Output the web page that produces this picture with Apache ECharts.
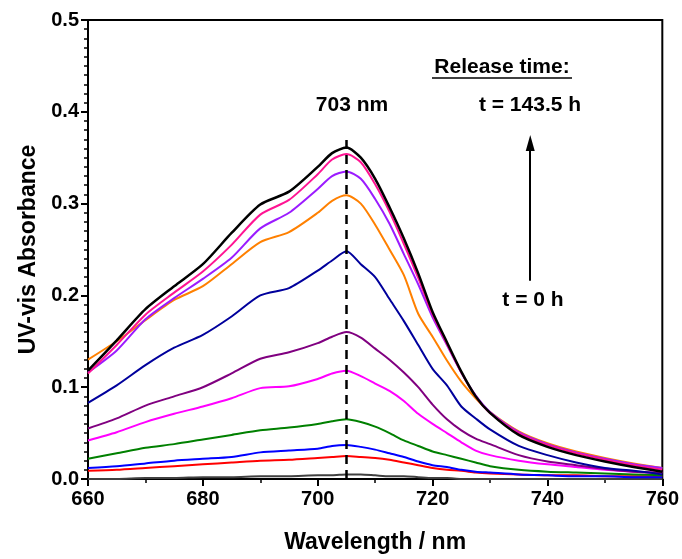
<!DOCTYPE html>
<html>
<head>
<meta charset="utf-8">
<script src="https://cdn.jsdelivr.net/npm/echarts@6/dist/echarts.min.js"></script>
<style>html,body{margin:0;padding:0;background:#fff}#c{width:682px;height:559px}</style>
</head>
<body>
<div id="c"></div>
<script>
const wavelengths = [660,665,670,675,680,685,690,695,700,702.5,705,707.5,710,712.5,715,717.5,720,722.5,725,727.5,730,735,740,745,750,755,760];
const xTicks = [660,680,700,720,740,760];
const yTicks = [0.0,0.1,0.2,0.3,0.4,0.5];

const absT143 = [0.118,0.151,0.185,0.210,0.234,0.268,0.299,0.313,0.340,0.355,0.361,0.350,0.327,0.296,0.262,0.224,0.182,0.149,0.117,0.090,0.072,0.048,0.035,0.026,0.019,0.013,0.008];
const absPink = [0.115,0.146,0.179,0.203,0.226,0.255,0.288,0.304,0.332,0.348,0.354,0.345,0.321,0.291,0.256,0.219,0.179,0.147,0.116,0.090,0.072,0.050,0.037,0.028,0.021,0.015,0.010];
const absViolet = [0.116,0.140,0.174,0.197,0.218,0.241,0.273,0.290,0.316,0.330,0.335,0.327,0.305,0.278,0.245,0.212,0.176,0.146,0.116,0.091,0.073,0.051,0.038,0.029,0.022,0.016,0.012];
const absOrange = [0.130,0.150,0.173,0.195,0.210,0.234,0.258,0.269,0.290,0.303,0.309,0.300,0.277,0.250,0.222,0.180,0.155,0.129,0.106,0.088,0.073,0.052,0.039,0.030,0.023,0.017,0.012];
const absNavy = [0.083,0.102,0.124,0.143,0.157,0.177,0.200,0.208,0.227,0.238,0.248,0.234,0.220,0.196,0.172,0.146,0.120,0.102,0.079,0.066,0.054,0.036,0.026,0.018,0.012,0.009,0.005];
const absPurple = [0.055,0.066,0.080,0.090,0.100,0.115,0.131,0.138,0.148,0.155,0.160,0.154,0.142,0.130,0.116,0.100,0.081,0.065,0.053,0.044,0.038,0.026,0.019,0.015,0.011,0.008,0.007];
const absMagenta = [0.042,0.051,0.062,0.071,0.079,0.088,0.099,0.101,0.109,0.115,0.118,0.112,0.104,0.096,0.085,0.071,0.060,0.050,0.040,0.031,0.026,0.020,0.016,0.013,0.010,0.008,0.007];
const absGreen = [0.022,0.028,0.034,0.038,0.043,0.048,0.053,0.056,0.060,0.063,0.065,0.062,0.057,0.050,0.042,0.036,0.030,0.026,0.022,0.018,0.014,0.010,0.008,0.007,0.006,0.005,0.004];
const absBlue = [0.012,0.014,0.017,0.020,0.022,0.024,0.029,0.031,0.033,0.036,0.037,0.035,0.032,0.028,0.024,0.019,0.015,0.013,0.010,0.008,0.007,0.005,0.004,0.003,0.003,0.002,0.002];
const absRed = [0.009,0.010,0.012,0.014,0.016,0.018,0.020,0.021,0.023,0.024,0.025,0.024,0.023,0.021,0.018,0.015,0.012,0.010,0.009,0.007,0.006,0.005,0.004,0.004,0.003,0.003,0.003];
const absT0 = [0.000,0.000,0.001,0.001,0.002,0.002,0.003,0.003,0.004,0.004,0.005,0.005,0.004,0.003,0.003,0.002,0.001,0.001,0.000,0.000,0.000,0.000,0.000,0.000,0.000,0.000,0.000];

const peakWavelength = 705;
const peakLineTop = 0.373;
const arrowX = 737;
const arrowFrom = 0.216;
const arrowTo = 0.366;

const curves = [
  {name:'t0', data:absT0, color:'#404040', w:2},
  {name:'red', data:absRed, color:'#FF0000', w:2},
  {name:'blue', data:absBlue, color:'#0000FF', w:2},
  {name:'green', data:absGreen, color:'#008000', w:2},
  {name:'magenta', data:absMagenta, color:'#FF00FF', w:2},
  {name:'purple', data:absPurple, color:'#800080', w:2},
  {name:'navy', data:absNavy, color:'#00009C', w:2},
  {name:'orange', data:absOrange, color:'#FF8000', w:2},
  {name:'violet', data:absViolet, color:'#9B1BFF', w:2},
  {name:'pink', data:absPink, color:'#FF1493', w:2},
  {name:'t143', data:absT143, color:'#000000', w:2.5}
];

const FONT = '"Liberation Sans", Arial, sans-serif';

const series = curves.map(c => ({
  type:'line', name:c.name, symbol:'none', animation:false, smooth:0.25,
  data: wavelengths.map((x,i)=>[x,c.data[i]]),
  lineStyle:{color:c.color, width:c.w}
}));

series.push({
  type:'line', name:'annot', data:[], symbol:'none', animation:false,
  markLine:{
    silent:true, animation:false, label:{show:false},
    data:[
      [{coord:[peakWavelength,0], symbol:'none', lineStyle:{color:'#000', width:2.5, type:[9,6]}},
       {coord:[peakWavelength,peakLineTop], symbol:'none'}],
      [{coord:[arrowX,arrowFrom], symbol:'none', lineStyle:{color:'#000', width:2, type:'solid'}},
       {coord:[arrowX,arrowTo], symbol:'triangle', symbolSize:[9,16], symbolRotate:0}]
    ]
  }
});

const chart = echarts.init(document.getElementById('c'), null, {renderer:'canvas'});
chart.setOption({
  animation:false,
  backgroundColor:'#fff',
  grid:{left:88, right:16, top:20, bottom:76, show:true, borderColor:'#000', borderWidth:2, backgroundColor:'transparent'},
  xAxis:{
    type:'value', min:xTicks[0], max:xTicks[xTicks.length-1], interval:20,
    name:'Wavelength / nm', nameLocation:'middle', nameGap:52,
    nameTextStyle:{fontFamily:FONT, fontWeight:'bold', fontSize:23, color:'#000'},
    axisLine:{show:true, lineStyle:{color:'#000', width:2}},
    axisTick:{show:true, inside:false, length:7, lineStyle:{color:'#000', width:2}},
    minorTick:{show:true, splitNumber:2, length:4, lineStyle:{color:'#000', width:1.5}},
    splitLine:{show:false},
    axisLabel:{fontFamily:FONT, fontWeight:'bold', fontSize:20, color:'#000', margin:10}
  },
  yAxis:{
    type:'value', min:yTicks[0], max:yTicks[yTicks.length-1], interval:0.1,
    name:'UV-vis Absorbance', nameLocation:'middle', nameGap:44,
    nameTextStyle:{fontFamily:FONT, fontWeight:'bold', fontSize:23, color:'#000'},
    axisLine:{show:true, lineStyle:{color:'#000', width:2}},
    axisTick:{show:true, inside:false, length:7, lineStyle:{color:'#000', width:2}},
    minorTick:{show:true, splitNumber:10, length:4, lineStyle:{color:'#000', width:1.5}},
    splitLine:{show:false},
    axisLabel:{fontFamily:FONT, fontWeight:'bold', fontSize:20, color:'#000', margin:9, formatter:v=>v.toFixed(1)}
  },
  series:series,
  graphic:[
    {type:'text', x:352, y:105, style:{text:'703 nm', font:'bold 21px '+FONT, fill:'#000', align:'center', verticalAlign:'middle'}},
    {type:'text', x:502, y:67, style:{text:'Release time:', font:'bold 21px '+FONT, fill:'#000', align:'center', verticalAlign:'middle'}},
    {type:'line', shape:{x1:432, y1:78, x2:572, y2:78}, style:{stroke:'#000', lineWidth:1.5}},
    {type:'text', x:530, y:105, style:{text:'t = 143.5 h', font:'bold 21px '+FONT, fill:'#000', align:'center', verticalAlign:'middle'}},
    {type:'text', x:533, y:300, style:{text:'t = 0 h', font:'bold 21px '+FONT, fill:'#000', align:'center', verticalAlign:'middle'}}
  ]
});
</script>
</body>
</html>
